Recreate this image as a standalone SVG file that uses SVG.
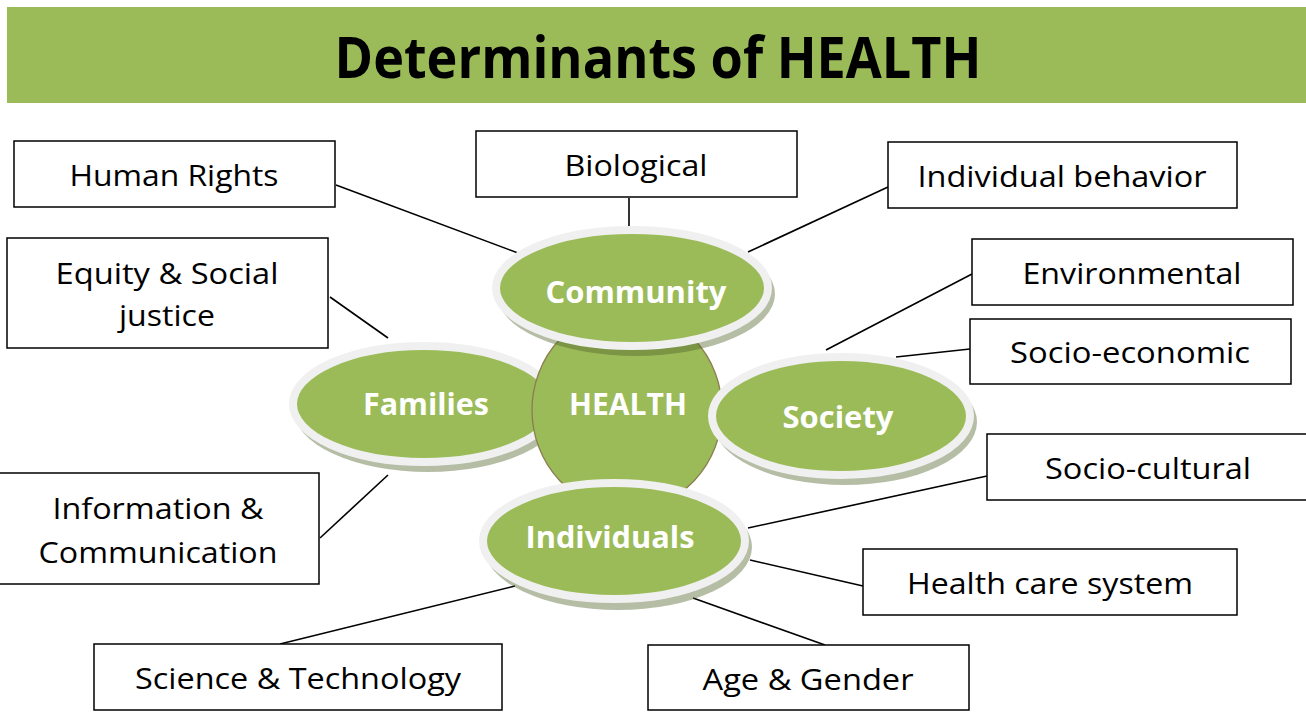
<svg xmlns="http://www.w3.org/2000/svg" width="1306" height="714" viewBox="0 0 1306 714">
  <style>
    .box { fill: #ffffff; stroke: #000000; stroke-width: 1.5; }
    .lbl { font-family: "Open Sans", "Liberation Sans", sans-serif; font-size: 30px; fill: #000000; text-anchor: middle; }
    .link { stroke: #000000; stroke-width: 1.6; fill: none; }
    .shadow { fill: #4f6228; fill-opacity: 0.42; }
    .rim { fill: #9bbb59; stroke: #f0f0f0; stroke-width: 8; }
    .core { fill: #9bbb59; stroke: #8b7d52; stroke-width: 1.3; }
    .oval { font-family: "Open Sans", "Liberation Sans", sans-serif; font-size: 31px; font-weight: bold; fill: #ffffff; text-anchor: middle; }
  </style>

  <!-- title band -->
  <g id="title">
    <rect x="7" y="7" width="1299" height="96" fill="#9bbb59"/>
    <text x="658" y="78" font-family="'Open Sans', 'Liberation Sans', sans-serif" font-size="58" font-weight="bold" text-anchor="middle" textLength="647" lengthAdjust="spacingAndGlyphs">Determinants of HEALTH</text>
  </g>

  <!-- connectors -->
  <g id="connectors">
    <line class="link" x1="336" y1="185" x2="518" y2="253"/>
    <line class="link" x1="629" y1="198" x2="629" y2="226"/>
    <line class="link" x1="888" y1="187" x2="748" y2="252"/>
    <line class="link" x1="330" y1="297" x2="388" y2="338"/>
    <line class="link" x1="972" y1="274" x2="826" y2="350"/>
    <line class="link" x1="970" y1="349" x2="896" y2="357"/>
    <line class="link" x1="320" y1="538" x2="388" y2="475"/>
    <line class="link" x1="987" y1="476" x2="748" y2="528"/>
    <line class="link" x1="863" y1="586" x2="750" y2="560"/>
    <line class="link" x1="280" y1="644" x2="515" y2="586"/>
    <line class="link" x1="825" y1="645" x2="693" y2="598"/>
  </g>

  <!-- central cluster -->
  <g id="families">
    <ellipse class="shadow" cx="428" cy="410" rx="134" ry="62"/>
    <ellipse class="rim" cx="424" cy="404" rx="131" ry="58"/>
    <text class="oval" x="426" y="415" textLength="126" lengthAdjust="spacingAndGlyphs">Families</text>
  </g>
  <g id="health">
    <ellipse class="core" cx="627" cy="410" rx="95" ry="100"/>
    <text class="oval" x="628" y="415" textLength="118" lengthAdjust="spacingAndGlyphs">HEALTH</text>
  </g>
  <g id="community">
    <ellipse class="shadow" cx="636" cy="294" rx="139" ry="62"/>
    <ellipse class="rim" cx="632" cy="288" rx="136" ry="58"/>
    <text class="oval" x="636" y="303" textLength="181" lengthAdjust="spacingAndGlyphs">Community</text>
  </g>
  <g id="society">
    <ellipse class="shadow" cx="845" cy="422" rx="132" ry="63"/>
    <ellipse class="rim" cx="841" cy="416" rx="129" ry="59"/>
    <text class="oval" x="838" y="428" textLength="111" lengthAdjust="spacingAndGlyphs">Society</text>
  </g>
  <g id="individuals">
    <ellipse class="shadow" cx="618" cy="547" rx="134" ry="63"/>
    <ellipse class="rim" cx="614" cy="541" rx="131" ry="58"/>
    <text class="oval" x="610" y="548" textLength="169" lengthAdjust="spacingAndGlyphs">Individuals</text>
  </g>

  <!-- determinant boxes -->
  <g id="human-rights">
    <rect class="box" x="14" y="141" width="321" height="66"/>
    <text class="lbl" x="174" y="186" textLength="209" lengthAdjust="spacingAndGlyphs">Human Rights</text>
  </g>
  <g id="biological">
    <rect class="box" x="476" y="131" width="321" height="66"/>
    <text class="lbl" x="636" y="176" textLength="143" lengthAdjust="spacingAndGlyphs">Biological</text>
  </g>
  <g id="individual-behavior">
    <rect class="box" x="888" y="142" width="349" height="66"/>
    <text class="lbl" x="1062" y="187" textLength="289" lengthAdjust="spacingAndGlyphs">Individual behavior</text>
  </g>
  <g id="equity">
    <rect class="box" x="7" y="238" width="321" height="110"/>
    <text class="lbl" x="167" y="284" textLength="223" lengthAdjust="spacingAndGlyphs">Equity &amp; Social</text>
    <text class="lbl" x="167" y="326" textLength="96" lengthAdjust="spacingAndGlyphs">justice</text>
  </g>
  <g id="environmental">
    <rect class="box" x="972" y="239" width="321" height="66"/>
    <text class="lbl" x="1132" y="284" textLength="219" lengthAdjust="spacingAndGlyphs">Environmental</text>
  </g>
  <g id="socio-economic">
    <rect class="box" x="970" y="319" width="321" height="65"/>
    <text class="lbl" x="1130" y="363" textLength="240" lengthAdjust="spacingAndGlyphs">Socio-economic</text>
  </g>
  <g id="information">
    <rect class="box" x="-2" y="473" width="321" height="111"/>
    <text class="lbl" x="158" y="519" textLength="211" lengthAdjust="spacingAndGlyphs">Information &amp;</text>
    <text class="lbl" x="158" y="563" textLength="239" lengthAdjust="spacingAndGlyphs">Communication</text>
  </g>
  <g id="socio-cultural">
    <rect class="box" x="987" y="434" width="325" height="66"/>
    <text class="lbl" x="1148" y="479" textLength="206" lengthAdjust="spacingAndGlyphs">Socio-cultural</text>
  </g>
  <g id="health-care">
    <rect class="box" x="863" y="549" width="374" height="66"/>
    <text class="lbl" x="1050" y="594" textLength="286" lengthAdjust="spacingAndGlyphs">Health care system</text>
  </g>
  <g id="science">
    <rect class="box" x="94" y="644" width="408" height="66"/>
    <text class="lbl" x="298" y="689" textLength="326" lengthAdjust="spacingAndGlyphs">Science &amp; Technology</text>
  </g>
  <g id="age-gender">
    <rect class="box" x="648" y="645" width="321" height="65"/>
    <text class="lbl" x="808" y="690" textLength="211" lengthAdjust="spacingAndGlyphs">Age &amp; Gender</text>
  </g>
</svg>
